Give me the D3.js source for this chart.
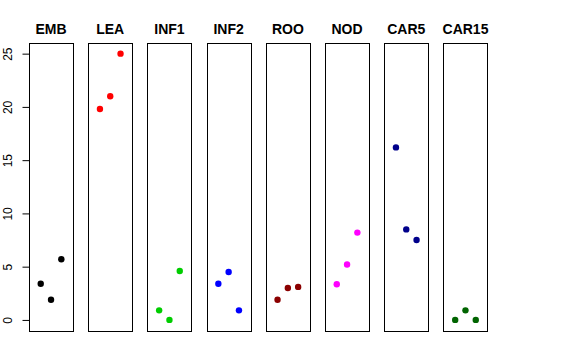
<!DOCTYPE html>
<html><head><meta charset="utf-8">
<script src="https://cdn.jsdelivr.net/npm/d3@7"></script>
<style>body{margin:0;background:#fff}svg{display:block}</style>
</head><body>
<svg id="c" width="576" height="360"></svg>
<script>
const categories = ["EMB","LEA","INF1","INF2","ROO","NOD","CAR5","CAR15"];
const colors = ["#000000","#FF0000","#00CD00","#0000FF","#8B0000","#FF00FF","#00008B","#006400"];
const values = [
  [3.4, 1.9, 5.7],
  [19.8, 21.0, 25.0],
  [0.9, 0.0, 4.6],
  [3.4, 4.5, 0.9],
  [1.9, 3.0, 3.1],
  [3.35, 5.2, 8.2],
  [16.2, 8.5, 7.5],
  [0.0, 0.9, 0.0]
];
const yTicks = [0,5,10,15,20,25];

const svg = d3.select("#c");
const font = "Liberation Sans, Arial, Helvetica, sans-serif";

const xBand = d3.scaleBand().domain(categories).range([29, 487.5]).paddingInner(0.256).paddingOuter(0);
const y = d3.scaleLinear().domain([-1.04, 26.0]).range([331, 43]);
const xInner = d3.scaleLinear().domain([1,3]).range([-10.3, 10.3]);

// y axis
const yAxis = d3.axisLeft(y).tickValues(yTicks).tickSize(7).tickPadding(0).tickFormat(d3.format("d"));
const ag = svg.append("g").attr("transform", "translate(29.5,0)").call(yAxis);
ag.select(".domain").remove();
ag.selectAll(".tick line").attr("stroke", "#000");
ag.selectAll(".tick text")
  .attr("x", 0).attr("dy", null)
  .attr("transform", "translate(-21.5,0) rotate(-90)")
  .attr("text-anchor", "middle")
  .attr("dominant-baseline", "central")
  .style("font-family", font).style("font-size", "12px").attr("fill", "#000");

categories.forEach((cat, i) => {
  const left = xBand(cat), w = xBand.bandwidth(), cx = left + w/2;
  const g = svg.append("g");
  g.append("rect")
    .attr("x", Math.round(left) + 0.5).attr("y", 43.5)
    .attr("width", Math.round(w)).attr("height", 288)
    .attr("fill", "none").attr("stroke", "#000").attr("stroke-width", 1);
  g.append("text")
    .attr("x", cx).attr("y", 34)
    .attr("text-anchor", "middle")
    .style("font-family", font).style("font-size", "14px").style("font-weight", "bold")
    .text(cat);
  g.selectAll("circle").data(values[i]).enter().append("circle")
    .attr("cx", (d, j) => cx + xInner(j + 1))
    .attr("cy", d => y(d))
    .attr("r", 3.2)
    .attr("fill", colors[i]);
});
</script>
</body></html>
